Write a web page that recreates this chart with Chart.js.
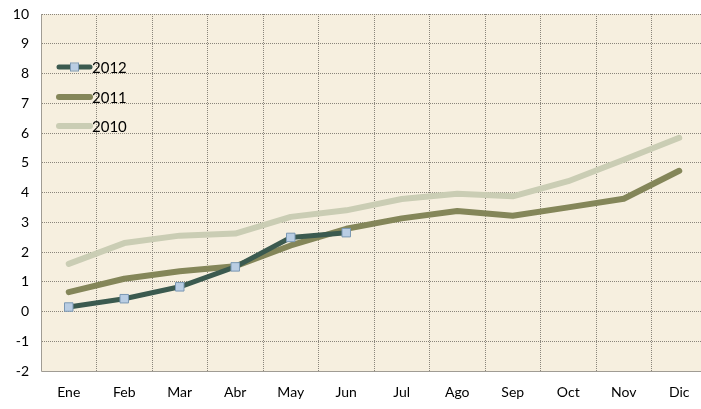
<!DOCTYPE html>
<html>
<head>
<meta charset="utf-8">
<script src="https://cdn.jsdelivr.net/npm/chart.js@4"></script>
<style>
  html, body { margin: 0; padding: 0; background: #fff; overflow: hidden; }
  #wrap { width: 720px; height: 409px; }
</style>
</head>
<body>
<div id="wrap"><canvas id="chart"></canvas></div>
<script>
// month labels and the three yearly series
const months = ['Ene', 'Feb', 'Mar', 'Abr', 'May', 'Jun', 'Jul', 'Ago', 'Sep', 'Oct', 'Nov', 'Dic'];
const values2012 = [0.15, 0.43, 0.83, 1.5, 2.49, 2.65, null, null, null, null, null, null];
const values2011 = [0.65, 1.1, 1.35, 1.52, 2.22, 2.78, 3.13, 3.38, 3.22, 3.5, 3.79, 4.73];
const values2010 = [1.6, 2.3, 2.55, 2.62, 3.18, 3.4, 3.78, 3.96, 3.87, 4.38, 5.1, 5.84];
const yMin = -2, yMax = 10;

const fontFamily = 'Lato, "Open Sans", sans-serif';

// fill the plot area with the cream background
const plotBackground = {
    id: 'plotBackground',
    beforeDraw(chart) {
        const a = chart.chartArea;
        const ctx = chart.ctx;
        ctx.save();
        ctx.fillStyle = '#f6efdf';
        ctx.fillRect(a.left, a.top, a.right - a.left, a.bottom - a.top);
        ctx.restore();
    }
};

// solid axis lines on left and bottom
const axisLines = {
    id: 'axisLines',
    afterDatasetsDraw(chart) {
        const a = chart.chartArea;
        const ctx = chart.ctx;
        ctx.save();
        ctx.strokeStyle = '#a09c94';
        ctx.lineWidth = 1;
        ctx.setLineDash([]);
        ctx.beginPath();
        ctx.moveTo(a.left + 0.5, a.top);
        ctx.lineTo(a.left + 0.5, a.bottom + 0.5);
        ctx.lineTo(a.right, a.bottom + 0.5);
        ctx.stroke();
        ctx.restore();
    }
};

// legend drawn inside the plot, top-left
const insideLegend = {
    id: 'insideLegend',
    afterDraw(chart) {
        const ctx = chart.ctx;
        const x0 = 59, x1 = 90;
        const rows = [67, 97, 126];
        ctx.save();
        ctx.setLineDash([]);
        chart.data.datasets.forEach((ds, i) => {
            const y = rows[i];
            ctx.strokeStyle = ds.borderColor;
            ctx.lineWidth = ds.borderWidth;
            ctx.lineCap = 'round';
            ctx.beginPath();
            ctx.moveTo(x0, y);
            ctx.lineTo(x1, y);
            ctx.stroke();
            if (ds.pointRadius > 0) {
                ctx.fillStyle = ds.pointBackgroundColor;
                ctx.strokeStyle = ds.pointBorderColor;
                ctx.lineWidth = 1;
                ctx.fillRect(x0 + 12, y - 3.5, 7, 7);
                ctx.strokeRect(x0 + 11.5, y - 4, 8, 8);
            }
            ctx.fillStyle = '#000';
            ctx.font = '15px ' + fontFamily;
            ctx.textBaseline = 'middle';
            ctx.fillText(ds.label, x1 + 2, y + 1);
        });
        ctx.restore();
    }
};

const gridOpts = { color: '#8a857b', drawTicks: false };

const ctx = document.getElementById('chart').getContext('2d');
new Chart(ctx, {
    type: 'line',
    data: {
        labels: months,
        datasets: [
            {
                label: '2012',
                data: values2012,
                borderColor: '#3b5a4f',
                borderWidth: 5,
                pointStyle: 'rect',
                pointRadius: 6,
                pointBackgroundColor: '#b9cde3',
                pointBorderColor: '#7b98b3',
                pointBorderWidth: 1,
                tension: 0,
                order: 0
            },
            {
                label: '2011',
                data: values2011,
                borderColor: '#848659',
                borderWidth: 6,
                pointRadius: 0,
                tension: 0,
                order: 1
            },
            {
                label: '2010',
                data: values2010,
                borderColor: '#cacdb4',
                borderWidth: 6,
                pointRadius: 0,
                tension: 0,
                order: 2
            }
        ]
    },
    options: {
        responsive: true,
        maintainAspectRatio: false,
        animation: false,
        layout: { padding: { top: 14, right: 13, left: 0, bottom: 0 } },
        plugins: {
            legend: { display: false },
            tooltip: { enabled: false }
        },
        elements: { line: { borderCapStyle: 'round', borderJoinStyle: 'round' } },
        scales: {
            x: {
                offset: true,
                grid: Object.assign({ offset: true }, gridOpts),
                border: { display: true, color: 'rgba(0,0,0,0)', dash: [1, 1] },
                ticks: { color: '#000', font: { family: fontFamily, size: 14 }, padding: 13 },
                afterFit(scale) { scale.height = 38; scale.paddingLeft = 0; scale.paddingRight = 0; }
            },
            y: {
                min: yMin,
                max: yMax,
                grid: Object.assign({}, gridOpts),
                border: { display: true, color: 'rgba(0,0,0,0)', dash: [1, 1] },
                ticks: { stepSize: 1, color: '#000', font: { family: fontFamily, size: 14 }, padding: 12 },
                afterFit(scale) { scale.width = 41; scale.paddingTop = 0; scale.paddingBottom = 0; }
            }
        }
    },
    plugins: [plotBackground, axisLines, insideLegend]
});
</script>
</body>
</html>
